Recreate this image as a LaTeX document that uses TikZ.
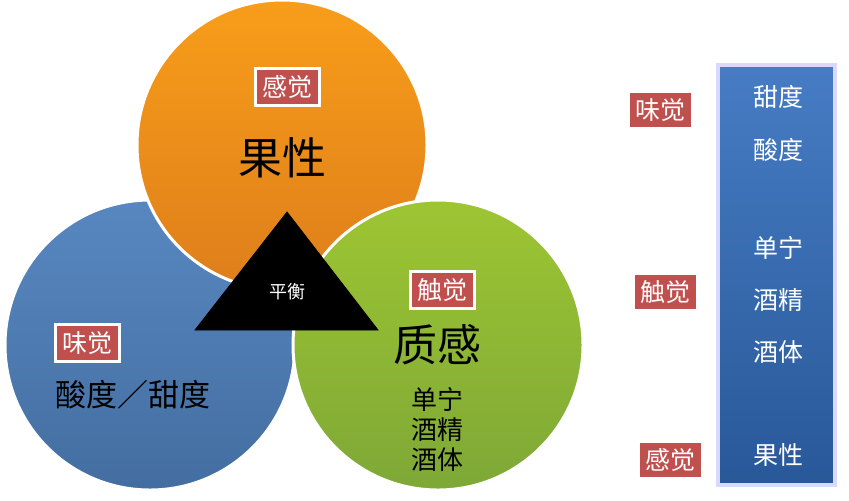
\documentclass[tikz,border=0pt]{standalone}
\usepackage{fontspec}
\setmainfont{Noto Sans CJK SC}
\usetikzlibrary{positioning}
\definecolor{bluec}{RGB}{79,129,189}
\definecolor{orangec}{RGB}{247,140,30}
\definecolor{greenc}{RGB}{140,187,60}
\definecolor{tagred}{RGB}{192,80,77}
\definecolor{panelblue}{RGB}{50,110,190}
\tikzset{
  ball/.style={circle, draw=white, line width=1.5pt, minimum size=145pt, inner sep=0pt},
  tag/.style={draw=white, line width=1.5pt, fill=tagred, text=white, font=\fontsize{12.5}{14}\selectfont, inner sep=3.5pt},
  big/.style={font=\fontsize{22}{24}\selectfont},
  mid/.style={font=\fontsize{13}{15}\selectfont},
  item/.style={font=\fontsize{12.5}{14}\selectfont, text=white}
}
\begin{document}
\begin{tikzpicture}[x=0.5pt,y=-0.5pt]
  \useasboundingbox[fill=white] (0,0) rectangle (849,500);
  % circles
  \node[ball, top color=bluec!95!white, bottom color=bluec!85!black] (taste) at (150,345) {};
  \node[ball, top color=orangec!85!yellow, bottom color=orangec!90!black] (fruit) at (282,145) {};
  \node[ball, top color=greenc!85!yellow, bottom color=greenc!90!black] (body) at (438,345) {};
  % balance
  \filldraw[black] (287,212) -- (378,330) -- (195,330) -- cycle;
  \node[text=white, font=\fontsize{9}{10}\selectfont] (bal) at (287,292) {平衡};
  % labels in circles
  \node[tag] (t1) at (287,87) {感觉};
  \node[big] (f1) at (282,158) {果性};
  \node[tag] (t2) at (442,290) {触觉};
  \node[big] (b1) at (437,345) {质感};
  \node[mid, align=center] (b2) at (437,430) {单宁\\酒精\\酒体};
  \node[tag] (t3) at (87,343) {味觉};
  \node[font=\fontsize{15.5}{17}\selectfont] (a1) at (133,395) {酸度／甜度};
  % right panel
  \node[draw=white!85!blue, line width=2pt, top color=panelblue!90!white, bottom color=panelblue!80!black,
        minimum width=58.5pt, minimum height=210pt, inner sep=0pt] (panel) at (776,275) {};
  \node[item] (p1) at (778,97) {甜度};
  \node[item] (p2) at (778,150) {酸度};
  \node[item] (p3) at (778,248) {单宁};
  \node[item] (p4) at (778,300) {酒精};
  \node[item] (p5) at (778,352) {酒体};
  \node[item] (p6) at (778,455) {果性};
  \node[tag] (r1) at (660,110) {味觉};
  \node[tag] (r2) at (665,292) {触觉};
  \node[tag] (r3) at (670,460) {感觉};
\end{tikzpicture}
\end{document}
